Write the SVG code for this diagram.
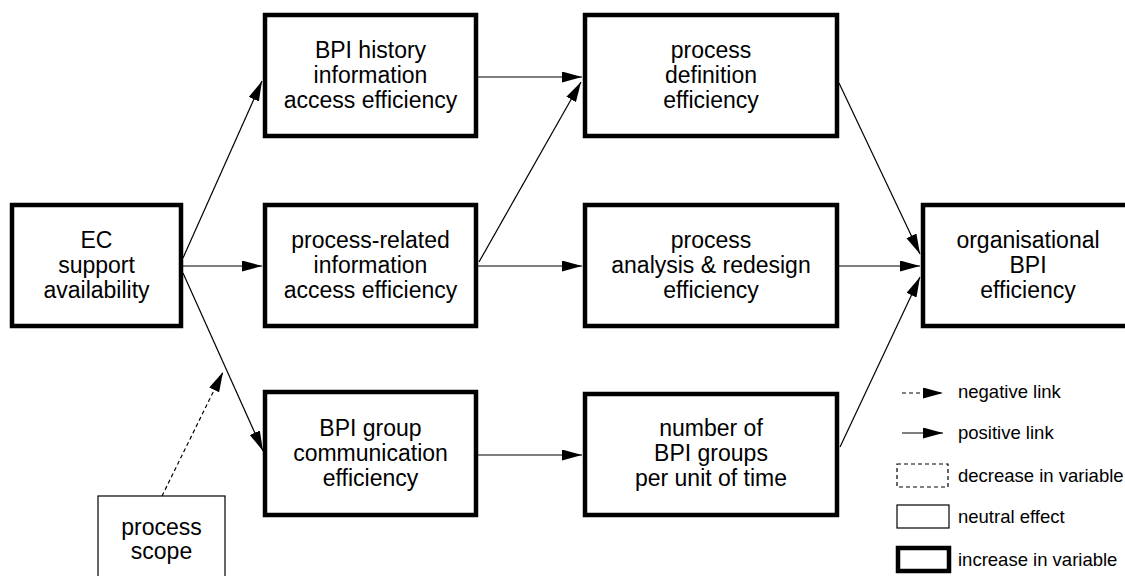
<svg xmlns="http://www.w3.org/2000/svg" width="1125" height="576" viewBox="0 0 1125 576">
<style>
.box{fill:#fff;stroke:#000;stroke-width:4.5}
.thin{fill:#fff;stroke:#000;stroke-width:1.2}
.dbox{fill:#fff;stroke:#000;stroke-width:1.2;stroke-dasharray:4,3}
.t{font-family:"Liberation Sans",Arial,sans-serif;font-size:23px;fill:#000;text-anchor:middle}
.lt{font-family:"Liberation Sans",Arial,sans-serif;font-size:18.5px;fill:#000}
.c{fill:none;stroke:#000;stroke-width:1.2;marker-end:url(#ah)}
.neg{stroke-dasharray:4,3}
</style>
<defs>
<marker id="ah" markerUnits="userSpaceOnUse" markerWidth="20" markerHeight="12" refX="20" refY="5.5" orient="auto">
<path d="M0,0 L20,5.5 L0,11 z" fill="#000"/>
</marker>
</defs>
<g id="connectors">
<path class="c" d="M183,258 L262,81"/>
<path class="c" d="M183,266 L262,266"/>
<path class="c" d="M183,273 L263,451"/>
<path class="c neg" d="M162,496 L223,372"/>
<path class="c" d="M478,77 L582,77"/>
<path class="c" d="M479,262 L581,82"/>
<path class="c" d="M478,266 L582,266"/>
<path class="c" d="M478,455 L582,455"/>
<path class="c" d="M839,83 L920,254"/>
<path class="c" d="M839,266 L920,266"/>
<path class="c" d="M840,447 L920,277"/>
</g>
<g id="ec">
<rect class="box" x="12" y="205" width="169" height="121"/>
<text class="t" x="96.5" y="248">EC</text>
<text class="t" x="96.5" y="273">support</text>
<text class="t" x="96.5" y="298">availability</text>
</g>
<g id="bpi-history">
<rect class="box" x="265" y="15" width="211" height="121"/>
<text class="t" x="370.5" y="58">BPI history</text>
<text class="t" x="370.5" y="83">information</text>
<text class="t" x="370.5" y="108">access efficiency</text>
</g>
<g id="process-related">
<rect class="box" x="265" y="205" width="211" height="121"/>
<text class="t" x="370.5" y="248">process-related</text>
<text class="t" x="370.5" y="273">information</text>
<text class="t" x="370.5" y="298">access efficiency</text>
</g>
<g id="bpi-group">
<rect class="box" x="265" y="392" width="211" height="123"/>
<text class="t" x="370.5" y="436">BPI group</text>
<text class="t" x="370.5" y="461">communication</text>
<text class="t" x="370.5" y="486">efficiency</text>
</g>
<g id="process-definition">
<rect class="box" x="585" y="15" width="252" height="121"/>
<text class="t" x="711" y="58">process</text>
<text class="t" x="711" y="83">definition</text>
<text class="t" x="711" y="108">efficiency</text>
</g>
<g id="process-analysis">
<rect class="box" x="585" y="205" width="252" height="121"/>
<text class="t" x="711" y="248">process</text>
<text class="t" x="711" y="273">analysis &amp; redesign</text>
<text class="t" x="711" y="298">efficiency</text>
</g>
<g id="number-groups">
<rect class="box" x="585" y="394" width="252" height="121"/>
<text class="t" x="711" y="436">number of</text>
<text class="t" x="711" y="461">BPI groups</text>
<text class="t" x="711" y="486">per unit of time</text>
</g>
<g id="organisational">
<rect class="box" x="923" y="205" width="220" height="121"/>
<text class="t" x="1028" y="248">organisational</text>
<text class="t" x="1028" y="273">BPI</text>
<text class="t" x="1028" y="298">efficiency</text>
</g>
<g id="process-scope">
<rect class="thin" x="98" y="496" width="127" height="100"/>
<text class="t" x="161.5" y="535">process</text>
<text class="t" x="161.5" y="559">scope</text>
</g>
<g id="legend">
<path class="c neg" d="M902,393 L943,393"/>
<text class="lt" x="958" y="398">negative link</text>
<path class="c" d="M902,433 L943,433"/>
<text class="lt" x="958" y="439">positive link</text>
<rect class="dbox" x="897" y="464" width="51" height="23"/>
<text class="lt" x="958" y="482">decrease in variable</text>
<rect class="thin" x="897" y="505" width="52" height="23"/>
<text class="lt" x="958" y="523">neutral effect</text>
<rect class="box" x="898" y="548" width="51" height="23"/>
<text class="lt" x="958" y="566">increase in variable</text>
</g>
</svg>
